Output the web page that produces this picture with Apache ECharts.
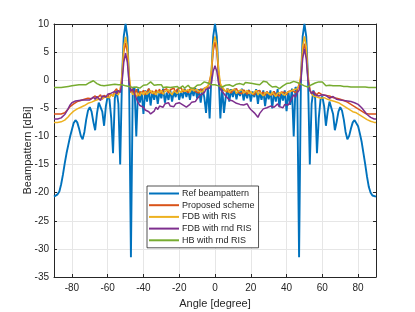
<!DOCTYPE html>
<html><head><meta charset="utf-8">
<script src="https://cdn.jsdelivr.net/npm/echarts@6/dist/echarts.min.js"></script>
<style>html,body{margin:0;padding:0;background:#fff}#c{width:415px;height:312px}</style>
</head><body><div id="c"></div>
<script>
// sampling grid of angles (degrees)
const angleStart = -90, angleStep = 1, angleCount = 181;
const xTicks = [-80, -60, -40, -20, 0, 20, 40, 60, 80];
const yMin = -35, yMax = 10, yStep = 5;
const seriesNames = ['Ref beampattern', 'Proposed scheme', 'FDB with RIS', 'FDB with rnd RIS', 'HB with rnd RIS'];
const seriesColors = ['#0072BD', '#D95319', '#EDB120', '#7E2F8E', '#77AC30'];

const refBeam = [
 -20.7,-20.6,-20.3,-19.8,-18.5,-16.8,-14.8,-13.0,-11.5,-10.0,
 -8.8,-7.6,-7.1,-7.5,-8.6,-9.9,-10.5,-9.2,-7.0,-5.4,
 -4.8,-5.6,-7.4,-8.9,-6.0,-4.0,-3.8,-5.6,-8.1,-4.6,
 -2.9,-3.4,-6.8,-13.0,-3.2,-1.8,-4.2,-15.0,0.2,7.8,
 10.0,7.8,-0.5,-31.5,-2.0,-1.2,-10.0,-1.5,-4.0,-2.0,
 -6.0,-1.8,-3.8,-1.5,-4.5,-2.0,-3.5,-1.8,-4.2,-2.0,
 -3.2,-1.5,-4.0,-2.2,-3.5,-1.8,-3.8,-2.0,-3.0,-1.6,
 -3.5,-2.0,-3.2,-1.5,-3.0,-1.8,-3.5,-1.5,-2.8,-1.4,
 -3.2,-1.6,-4.0,-1.5,-3.0,-5.8,-1.2,-6.8,1.0,7.8,
 10.0,7.8,1.0,-6.8,-1.2,-5.8,-3.0,-1.4,-3.8,-1.6,
 -3.0,-1.5,-3.4,-1.8,-2.8,-1.5,-3.6,-2.0,-3.2,-1.7,
 -3.8,-2.0,-3.0,-1.6,-4.2,-2.0,-3.5,-1.8,-4.6,-2.2,
 -3.4,-1.8,-5.0,-2.0,-3.8,-1.6,-4.8,-2.2,-3.6,-1.8,
 -5.5,-2.0,-4.4,-1.5,-10.0,-1.2,-2.0,-31.5,-0.5,7.8,
 10.0,7.8,0.2,-15.0,-4.2,-1.8,-3.2,-13.0,-6.8,-3.4,
 -2.9,-4.6,-8.1,-5.6,-3.8,-4.0,-6.0,-8.9,-7.4,-5.6,
 -4.8,-5.4,-7.0,-9.2,-10.5,-9.9,-8.6,-7.5,-7.1,-7.3,
 -8.2,-9.5,-11.0,-13.0,-15.0,-17.2,-19.0,-20.0,-20.5,-20.7,
 -20.7
];
const proposed = [
 -6.0,-6.0,-6.0,-6.0,-6.0,-5.9,-5.8,-5.5,-5.1,-4.7,
 -4.4,-4.2,-4.0,-3.8,-3.7,-3.6,-3.5,-3.4,-3.3,-3.2,
 -3.1,-3.3,-3.0,-2.8,-3.2,-3.0,-2.6,-3.4,-2.7,-2.5,
 -3.0,-2.4,-2.2,-2.8,-1.9,-1.5,-2.3,-1.8,0.3,5.0,
 6.7,5.0,0.3,-2.2,-1.8,-2.5,-1.6,-2.8,-2.0,-2.4,
 -1.8,-2.6,-2.0,-1.5,-2.3,-1.9,-2.5,-1.7,-2.2,-1.6,
 -2.4,-1.8,-2.1,-1.5,-2.3,-1.7,-2.0,-1.4,-2.2,-1.6,
 -1.9,-1.3,-2.1,-1.7,-1.5,-2.2,-1.6,-1.9,-1.4,-2.0,
 -1.7,-2.3,-1.5,-1.9,-1.4,-1.6,-1.2,-1.0,1.2,5.2,
 6.8,5.2,1.2,-1.0,-1.3,-1.8,-1.5,-2.1,-1.7,-2.3,
 -1.8,-2.0,-1.5,-2.2,-1.9,-2.4,-1.7,-2.1,-2.5,-1.8,
 -2.2,-1.9,-2.6,-2.0,-2.3,-1.8,-2.5,-2.1,-2.7,-2.0,
 -2.4,-2.2,-2.6,-2.0,-2.5,-2.3,-2.8,-2.1,-2.4,-2.2,
 -2.6,-2.0,-2.3,-1.8,-1.5,-2.2,-1.7,-1.4,0.3,4.9,
 6.5,4.9,0.3,-1.6,-2.4,-2.0,-2.3,-2.6,-2.2,-2.5,
 -2.6,-2.8,-2.7,-2.9,-2.8,-3.0,-3.1,-3.0,-3.2,-3.3,
 -3.4,-3.5,-3.6,-3.8,-3.9,-4.1,-4.3,-4.5,-4.7,-4.9,
 -5.1,-5.3,-5.5,-5.7,-5.9,-6.0,-6.0,-6.0,-6.0,-6.0,
 -6.0
];
const fdbRis = [
 -7.5,-7.5,-7.5,-7.5,-7.4,-7.3,-7.1,-6.8,-6.5,-6.1,
 -5.8,-5.5,-5.3,-5.1,-4.9,-4.8,-4.7,-4.5,-4.3,-4.1,
 -4.0,-3.9,-3.8,-3.6,-3.5,-3.4,-3.6,-3.2,-3.3,-3.0,
 -2.8,-3.1,-2.5,-2.9,-2.2,-2.0,-2.6,-1.7,1.0,6.0,
 7.7,6.0,1.0,-1.8,-2.6,-2.2,-3.0,-2.3,-2.8,-2.1,
 -2.6,-2.0,-2.5,-2.2,-1.8,-2.4,-2.0,-2.6,-1.9,-2.3,
 -1.8,-2.5,-2.0,-2.3,-1.7,-2.2,-2.6,-1.9,-2.1,-2.4,
 -1.8,-2.2,-1.6,-2.0,-2.3,-1.7,-2.1,-1.5,-1.9,-2.2,
 -1.6,-2.0,-1.7,-2.1,-1.5,-1.3,-1.0,-0.6,2.0,6.2,
 7.8,6.2,2.0,-0.6,-1.2,-1.6,-2.0,-1.5,-2.2,-1.8,
 -2.1,-1.6,-2.4,-1.9,-2.2,-1.7,-2.3,-2.0,-1.8,-2.4,
 -2.0,-2.5,-2.2,-1.8,-2.6,-2.1,-2.4,-2.8,-2.2,-2.5,
 -2.3,-2.7,-2.1,-2.5,-2.9,-2.3,-2.6,-2.2,-2.4,-2.7,
 -2.2,-2.5,-2.0,-2.3,-1.7,-2.0,-1.5,-1.0,1.0,6.0,
 7.8,6.0,1.0,-1.8,-2.4,-2.8,-2.5,-3.0,-2.8,-3.2,
 -3.0,-3.1,-3.3,-3.4,-3.5,-3.6,-3.7,-3.8,-3.9,-4.0,
 -4.2,-4.4,-4.6,-4.8,-5.0,-5.2,-5.4,-5.6,-5.7,-5.8,
 -6.0,-6.2,-6.4,-6.6,-6.8,-7.0,-7.1,-7.3,-7.4,-7.5,
 -7.5
];
const fdbRndRis = [
 -6.9,-6.9,-6.9,-6.8,-6.7,-6.5,-6.1,-5.6,-5.0,-4.4,
 -4.0,-3.8,-3.7,-3.6,-3.6,-3.7,-3.5,-3.4,-3.5,-3.3,
 -3.5,-3.2,-3.0,-3.4,-2.9,-3.1,-3.6,-2.8,-2.6,-3.0,
 -2.5,-2.8,-2.3,-2.6,-2.0,-2.4,-1.8,-2.2,-0.5,3.2,
 4.8,3.2,-0.5,-2.0,-1.5,-2.4,-3.2,-4.0,-4.5,-4.2,
 -4.8,-5.3,-5.0,-5.6,-6.0,-6.3,-5.5,-4.8,-5.2,-4.6,
 -4.4,-4.8,-4.2,-4.5,-4.0,-4.6,-4.3,-4.7,-4.2,-4.5,
 -4.0,-3.7,-4.4,-4.1,-4.8,-5.0,-4.3,-3.9,-3.6,-3.8,
 -3.3,-3.0,-2.6,-2.8,-2.2,-1.6,-1.8,-1.4,-0.5,1.6,
 2.6,1.6,-0.5,-1.6,-2.0,-2.3,-2.8,-3.0,-3.5,-3.2,
 -3.7,-3.5,-4.1,-3.9,-4.3,-4.0,-4.4,-4.6,-4.2,-4.8,
 -5.2,-5.0,-5.8,-6.2,-6.6,-5.9,-5.5,-5.1,-5.3,-4.9,
 -5.0,-4.6,-4.4,-4.8,-4.5,-4.2,-4.7,-4.5,-4.9,-4.3,
 -4.1,-4.4,-3.8,-3.2,-2.6,-3.0,-2.2,-1.8,0.0,3.8,
 5.6,3.8,0.0,-1.8,-2.4,-2.0,-2.6,-2.3,-2.8,-2.5,
 -2.6,-2.9,-2.7,-3.0,-3.2,-3.0,-2.9,-3.2,-3.4,-3.3,
 -3.5,-3.4,-3.6,-3.5,-3.7,-3.6,-3.8,-3.9,-4.0,-4.1,
 -4.3,-4.6,-4.9,-5.3,-5.7,-6.1,-6.4,-6.6,-6.8,-6.9,
 -6.9
];
const hbRndRis = [
 -1.3,-1.3,-1.3,-1.3,-1.3,-1.2,-1.2,-1.2,-1.1,-1.1,
 -1.0,-1.0,-0.9,-0.8,-0.8,-0.7,-0.8,-0.9,-0.8,-0.6,
 -0.4,-0.2,-0.1,-0.3,-0.6,-0.8,-0.9,-0.9,-1.0,-0.8,
 -0.9,-0.7,-0.8,-0.6,-0.7,-0.6,-0.8,-0.7,-0.8,-0.9,
 -1.0,-1.0,-1.1,-1.2,-1.3,-1.5,-1.2,-1.0,-1.4,-1.2,
 -0.9,-1.1,-0.8,-0.5,-0.3,-0.6,-0.9,-1.2,-0.8,-1.0,
 -0.8,-1.3,-1.0,-1.2,-1.5,-1.3,-1.6,-1.2,-1.4,-1.1,
 -1.5,-1.3,-1.0,-1.4,-1.2,-0.9,-1.3,-1.1,-1.5,-1.2,
 -0.9,-1.2,-0.8,-0.6,-0.3,-0.2,-0.5,-0.7,-0.8,-0.9,
 -0.8,-0.9,-1.0,-1.1,-1.2,-1.0,-0.9,-1.1,-0.8,-0.6,
 -1.1,-0.9,-0.7,-1.0,-0.6,-0.5,-0.8,-0.4,-0.2,-0.5,
 -0.3,-0.6,-0.9,-0.7,-1.0,-0.8,-0.5,-0.2,0.1,-0.3,
 -0.7,-1.0,-1.2,-1.4,-1.1,-1.3,-1.5,-1.2,-1.0,-0.9,
 -0.6,-0.8,-0.5,-0.3,-0.2,-0.3,-0.4,-0.5,-0.7,-0.9,
 -1.0,-1.1,-1.2,-1.0,-0.8,-0.6,-0.5,-0.4,-0.3,-0.2,
 -0.3,-0.6,-1.0,-1.1,-0.9,-0.8,-1.0,-1.1,-1.0,-1.1,
 -1.0,-1.1,-1.1,-1.0,-1.1,-1.1,-1.2,-1.1,-1.2,-1.2,
 -1.2,-1.2,-1.2,-1.3,-1.2,-1.3,-1.3,-1.3,-1.3,-1.3,
 -1.3
];
const seriesValues = [refBeam, proposed, fdbRis, fdbRndRis, hbRndRis];
const seriesWidths = [1.9, 1.5, 1.5, 1.5, 1.5];

const angles = [];
for (let i = 0; i < angleCount; i++) angles.push(angleStart + i * angleStep);

const FONT = 'Liberation Sans, Arial, Helvetica, sans-serif';
const AX = '#262626';
const chart = echarts.init(document.getElementById('c'), null, {renderer: 'canvas'});

const xCommon = {
  type: 'value', min: -90, max: 90,
  axisLine: {show: true, onZero: false, lineStyle: {color: AX, width: 1}},
  axisTick: {show: true, inside: true, length: 3, customValues: xTicks, lineStyle: {color: AX}},
};
const yCommon = {
  type: 'value', min: yMin, max: yMax, interval: yStep,
  axisLine: {show: true, onZero: false, lineStyle: {color: AX, width: 1}},
  axisTick: {show: true, inside: true, length: 3, lineStyle: {color: AX}},
};

chart.setOption({
  backgroundColor: '#ffffff',
  animation: false,
  textStyle: {fontFamily: FONT},
  grid: {left: 54, right: 39, top: 24, bottom: 35, containLabel: false, outerBoundsMode: 'none'},
  xAxis: [
    Object.assign({}, xCommon, {
      position: 'bottom',
      name: 'Angle [degree]', nameLocation: 'middle', nameGap: 21, nameMoveOverlap: false,
      nameTextStyle: {fontSize: 11, color: AX, fontFamily: FONT},
      axisLabel: {show: true, customValues: xTicks, margin: 6, fontSize: 10, color: AX, fontFamily: FONT},
      splitLine: {show: true, lineStyle: {color: '#e6e6e6', width: 1}}
    }),
    Object.assign({}, xCommon, {
      position: 'top', axisLabel: {show: false}, splitLine: {show: false}
    })
  ],
  yAxis: [
    Object.assign({}, yCommon, {
      position: 'left',
      name: 'Beampattern [dBi]', nameLocation: 'middle', nameGap: 21, nameRotate: 90, nameMoveOverlap: false,
      nameTextStyle: {fontSize: 11, color: AX, fontFamily: FONT},
      axisLabel: {show: true, margin: 5, fontSize: 10, color: AX, fontFamily: FONT},
      splitLine: {show: true, lineStyle: {color: '#e6e6e6', width: 1}}
    }),
    Object.assign({}, yCommon, {
      position: 'right', axisLabel: {show: false}, splitLine: {show: false}
    })
  ],
  legend: {
    orient: 'vertical', left: 147, top: 186,
    width: 109,
    padding: [3, 4, 3, 2],
    itemWidth: 30, itemHeight: 9, itemGap: 2.7,
    backgroundColor: '#ffffff', borderColor: '#262626', borderWidth: 0.8,
    textStyle: {fontSize: 9, color: AX, fontFamily: FONT, padding: [0, 0, 0, -2]},
    data: seriesNames.map(n => ({name: n, icon: 'path://M0,0 L30,0 L30,2 L0,2 Z'})),
  },
  series: seriesNames.map((name, k) => ({
    name: name, type: 'line', symbol: 'none', smooth: false,
    xAxisIndex: 0, yAxisIndex: 0,
    data: angles.map((a, i) => [a, seriesValues[k][i]]),
    lineStyle: {color: seriesColors[k], width: seriesWidths[k]},
    itemStyle: {color: seriesColors[k]},
    clip: true, z: 2 + k
  }))
});
</script>
</body></html>
